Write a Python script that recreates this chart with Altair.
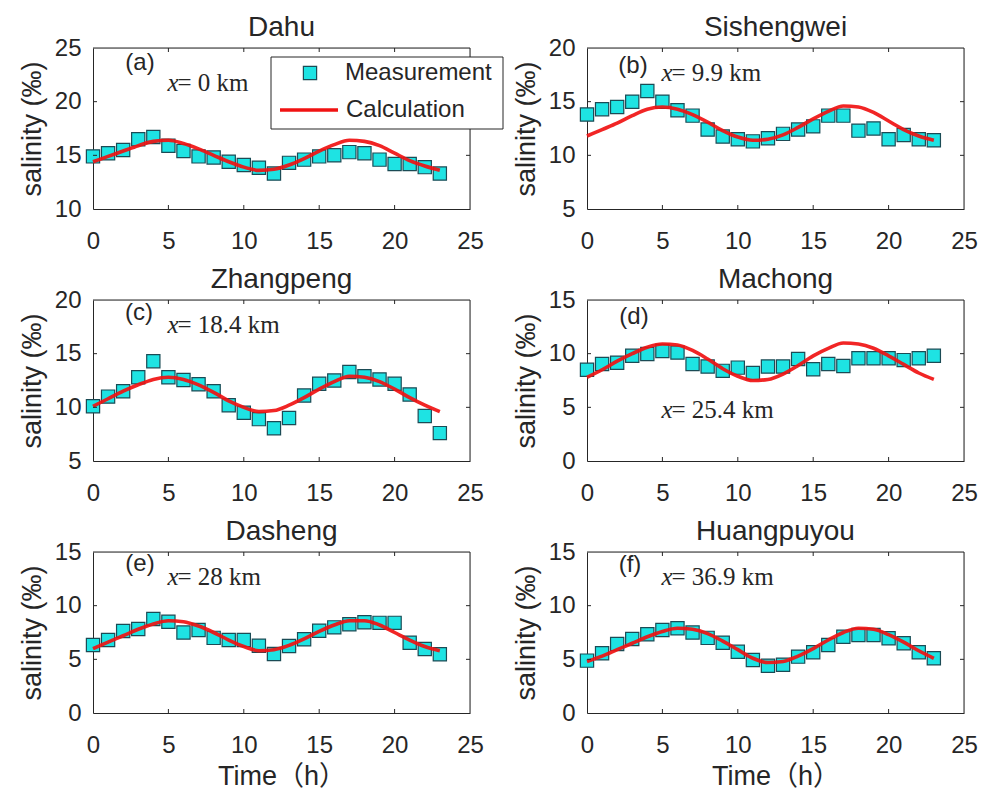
import altair as alt
import pandas as pd

hours = list(range(24))
stations = ["Dahu", "Sishengwei", "Zhangpeng", "Machong", "Dasheng", "Huangpuyou"]
panel_tags = ["(a)", "(b)", "(c)", "(d)", "(e)", "(f)"]
distance_texts = ["= 0 km", "= 9.9 km", "= 18.4 km", "= 25.4 km", "= 28 km", "= 36.9 km"]
y_domains = [[10, 25], [5, 20], [5, 20], [0, 15], [0, 15], [0, 15]]
x_ticks = [0, 5, 10, 15, 20, 25]

meas_dahu = [14.9, 15.2, 15.5, 16.5, 16.7, 15.9, 15.4, 14.9, 14.8, 14.4, 14.1, 13.85,
             13.3, 14.3, 14.6, 14.9, 15.0, 15.3, 15.2, 14.6, 14.2, 14.2, 13.9, 13.3]
calc_dahu = [14.4, 14.9, 15.4, 15.9, 16.3, 16.4, 16.1, 15.6, 15.0, 14.4, 13.9, 13.6,
             13.7, 14.1, 14.7, 15.4, 16.0, 16.4, 16.3, 15.9, 15.2, 14.5, 14.0, 13.6]

meas_sishengwei = [13.8, 14.3, 14.5, 15.0, 16.0, 15.0, 14.2, 13.7, 12.4, 11.75, 11.5, 11.3,
                   11.6, 12.0, 12.4, 12.7, 13.7, 13.7, 12.3, 12.5, 11.5, 11.9, 11.5, 11.4]
calc_sishengwei = [11.8, 12.4, 13.0, 13.7, 14.3, 14.5, 14.3, 13.8, 13.1, 12.3, 11.7, 11.4,
                   11.5, 11.9, 12.6, 13.4, 14.1, 14.6, 14.5, 14.0, 13.2, 12.4, 11.8, 11.4]

meas_zhangpeng = [10.1, 11.0, 11.5, 12.8, 14.3, 12.8, 12.55, 12.15, 11.5, 10.2, 9.5, 8.9,
                  8.05, 9.0, 11.1, 12.2, 12.5, 13.3, 12.9, 12.6, 12.2, 11.2, 9.2, 7.6]
calc_zhangpeng = [10.1, 10.8, 11.5, 12.1, 12.6, 12.8, 12.6, 12.1, 11.4, 10.6, 10.0, 9.6,
                  9.7, 10.2, 10.9, 11.7, 12.4, 12.9, 12.8, 12.4, 11.7, 10.9, 10.2, 9.6]

meas_machong = [8.5, 9.04, 9.16, 9.8, 9.97, 10.25, 10.1, 9.04, 8.8, 8.4, 8.7, 8.2,
                8.8, 8.8, 9.5, 8.55, 9.04, 8.85, 9.57, 9.57, 9.57, 9.4, 9.57, 9.8]
calc_machong = [7.8, 8.5, 9.3, 10.0, 10.6, 10.9, 10.8, 10.3, 9.5, 8.6, 7.9, 7.5,
                7.6, 8.1, 8.9, 9.8, 10.5, 11.0, 10.9, 10.5, 9.8, 9.0, 8.2, 7.6]

meas_dasheng = [6.34, 6.8, 7.64, 7.83, 8.76, 8.5, 7.5, 7.74, 7.0, 6.8, 6.8, 6.27,
                5.5, 6.24, 6.87, 7.67, 7.98, 8.27, 8.45, 8.4, 8.4, 6.55, 5.96, 5.47]
calc_dasheng = [6.0, 6.6, 7.2, 7.8, 8.3, 8.6, 8.5, 8.1, 7.5, 6.8, 6.2, 5.8,
                5.9, 6.3, 6.9, 7.6, 8.2, 8.6, 8.6, 8.2, 7.5, 6.8, 6.2, 5.8]

meas_huangpuyou = [4.88, 5.56, 6.43, 6.9, 7.33, 7.74, 7.9, 7.5, 7.0, 6.55, 5.7, 4.94,
                   4.4, 4.5, 5.25, 5.66, 6.34, 7.1, 7.27, 7.27, 6.96, 6.5, 5.66, 5.1]
calc_huangpuyou = [4.8, 5.3, 5.9, 6.5, 7.1, 7.6, 7.9, 7.8, 7.4, 6.7, 5.9, 5.1,
                   4.7, 4.8, 5.3, 6.0, 6.8, 7.5, 7.9, 7.8, 7.3, 6.6, 5.8, 5.1]

measurements = [meas_dahu, meas_sishengwei, meas_zhangpeng, meas_machong, meas_dasheng, meas_huangpuyou]
calculations = [calc_dahu, calc_sishengwei, calc_zhangpeng, calc_machong, calc_dasheng, calc_huangpuyou]

# ---- styling ----
W, H = 377, 161
AX = "#262626"
CYAN = "#1EE3E3"
EDGE = "#1B4B55"
RED = "#F01212"
SANS = "Liberation Sans, Arial, Noto Sans CJK SC"
SERIF = "Liberation Serif, Times New Roman"

tag_pos = [(47, 15), (46, 18), (46, 13), (47, 17), (47, 12), (43, 13)]
dist_pos = [(74.5, 35), (74.5, 25), (74.5, 25), (74.5, 110), (74.5, 25), (74.5, 25)]

one = pd.DataFrame({"k": [0]})


def panel(i):
    dom = y_domains[i]
    y_ticks = [dom[0] + 5 * k for k in range(4)]
    show_xt = i >= 4
    x_axis = alt.Axis(values=x_ticks, ticks=False, tickSize=0, grid=False, labelPadding=20,
                      labelFontSize=24, labelFont=SANS, labelColor=AX, domainColor=AX,
                      titleFontSize=27, titleFont=SANS, titleFontWeight="normal",
                      titleColor=AX, titlePadding=6, labelFlush=False,
                      title="Time（h）" if show_xt else None)
    y_axis = alt.Axis(values=y_ticks, ticks=False, tickSize=0, grid=False, labelPadding=12,
                      labelFontSize=24, labelFont=SANS, labelColor=AX, domainColor=AX,
                      titleFontSize=27, titleFont=SANS, titleFontWeight="normal",
                      titleColor=AX, titlePadding=8, labelFlush=False,
                      title="salinity (‰)")
    xenc = alt.X("hour:Q", scale=alt.Scale(domain=[0, 25], nice=False, zero=False), axis=x_axis)
    yenc = alt.Y("value:Q", scale=alt.Scale(domain=dom, nice=False, zero=False), axis=y_axis)

    dfm = pd.DataFrame({"hour": hours, "value": measurements[i]})
    dfc = pd.DataFrame({"hour": hours, "value": calculations[i]})

    pts = alt.Chart(dfm).mark_square(size=175, color=CYAN, stroke=EDGE, strokeWidth=1.2,
                                     opacity=1).encode(x=xenc, y=yenc)
    line = alt.Chart(dfc).mark_line(color=RED, strokeWidth=3.6, interpolate="monotone",
                                    opacity=0.92).encode(x=xenc, y=yenc)

    xt = pd.DataFrame({"hour": x_ticks[1:-1]})
    yt = pd.DataFrame({"value": y_ticks[1:-1]})
    tb = alt.Chart(xt).mark_rule(color=AX, strokeWidth=1).encode(
        x=xenc, y=alt.value(H), y2=alt.value(H - 4))
    tt = alt.Chart(xt).mark_rule(color=AX, strokeWidth=1).encode(
        x=xenc, y=alt.value(0), y2=alt.value(4))
    tl = alt.Chart(yt).mark_rule(color=AX, strokeWidth=1).encode(
        y=yenc, x=alt.value(0), x2=alt.value(4))
    tr = alt.Chart(yt).mark_rule(color=AX, strokeWidth=1).encode(
        y=yenc, x=alt.value(W), x2=alt.value(W - 4))
    top_border = alt.Chart(one).mark_rule(color=AX, strokeWidth=1).encode(
        x=alt.value(0), x2=alt.value(W), y=alt.value(0))
    right_border = alt.Chart(one).mark_rule(color=AX, strokeWidth=1).encode(
        x=alt.value(W), y=alt.value(0), y2=alt.value(H))

    tx, ty = tag_pos[i]
    tag = alt.Chart(one).mark_text(text=panel_tags[i], font=SANS, fontSize=24, color=AX,
                                   align="center", baseline="middle").encode(
        x=alt.value(tx), y=alt.value(ty))
    dx, dy = dist_pos[i]
    xvar = alt.Chart(one).mark_text(text="x", font=SERIF, fontSize=25, fontStyle="italic",
                                    color=AX, align="left", baseline="middle").encode(
        x=alt.value(dx), y=alt.value(dy))
    dist = alt.Chart(one).mark_text(text=distance_texts[i], font=SERIF, fontSize=25,
                                    color=AX, align="left", baseline="middle").encode(
        x=alt.value(dx + 10), y=alt.value(dy))

    layers = [pts, line, tb, tt, tl, tr, top_border, right_border, tag, xvar, dist]

    if i == 0:
        box = alt.Chart(one).mark_rect(fill="white", stroke=AX, strokeWidth=1).encode(
            x=alt.value(178), x2=alt.value(410), y=alt.value(9), y2=alt.value(81))
        lpt = alt.Chart(one).mark_square(size=175, color=CYAN, stroke=EDGE, strokeWidth=1.2,
                                         opacity=1).encode(x=alt.value(217), y=alt.value(25))
        lline = alt.Chart(one).mark_rule(color=RED, strokeWidth=3.6).encode(
            x=alt.value(187), x2=alt.value(245), y=alt.value(62))
        t1 = alt.Chart(one).mark_text(text="Measurement", font=SANS, fontSize=24, color=AX,
                                      align="left", baseline="middle").encode(
            x=alt.value(252), y=alt.value(25))
        t2 = alt.Chart(one).mark_text(text="Calculation", font=SANS, fontSize=24, color=AX,
                                      align="left", baseline="middle").encode(
            x=alt.value(253), y=alt.value(62))
        layers += [box, lpt, lline, t1, t2]

    return alt.layer(*layers).properties(
        width=W, height=H,
        title=alt.TitleParams(stations[i], fontSize=28, font=SANS, fontWeight="normal",
                              color=AX, offset=-6, anchor="middle"))


chart = alt.concat(*[panel(i) for i in range(6)], columns=2,
                   spacing=alt.RowColnumber(row=91, column=117), bounds="flush").properties(
    padding={"left": 17, "top": 13, "right": 5, "bottom": 5}
).configure_view(strokeWidth=0).configure(background="white")

chart.save("out.html", embed_options={"renderer": "svg", "actions": False})
